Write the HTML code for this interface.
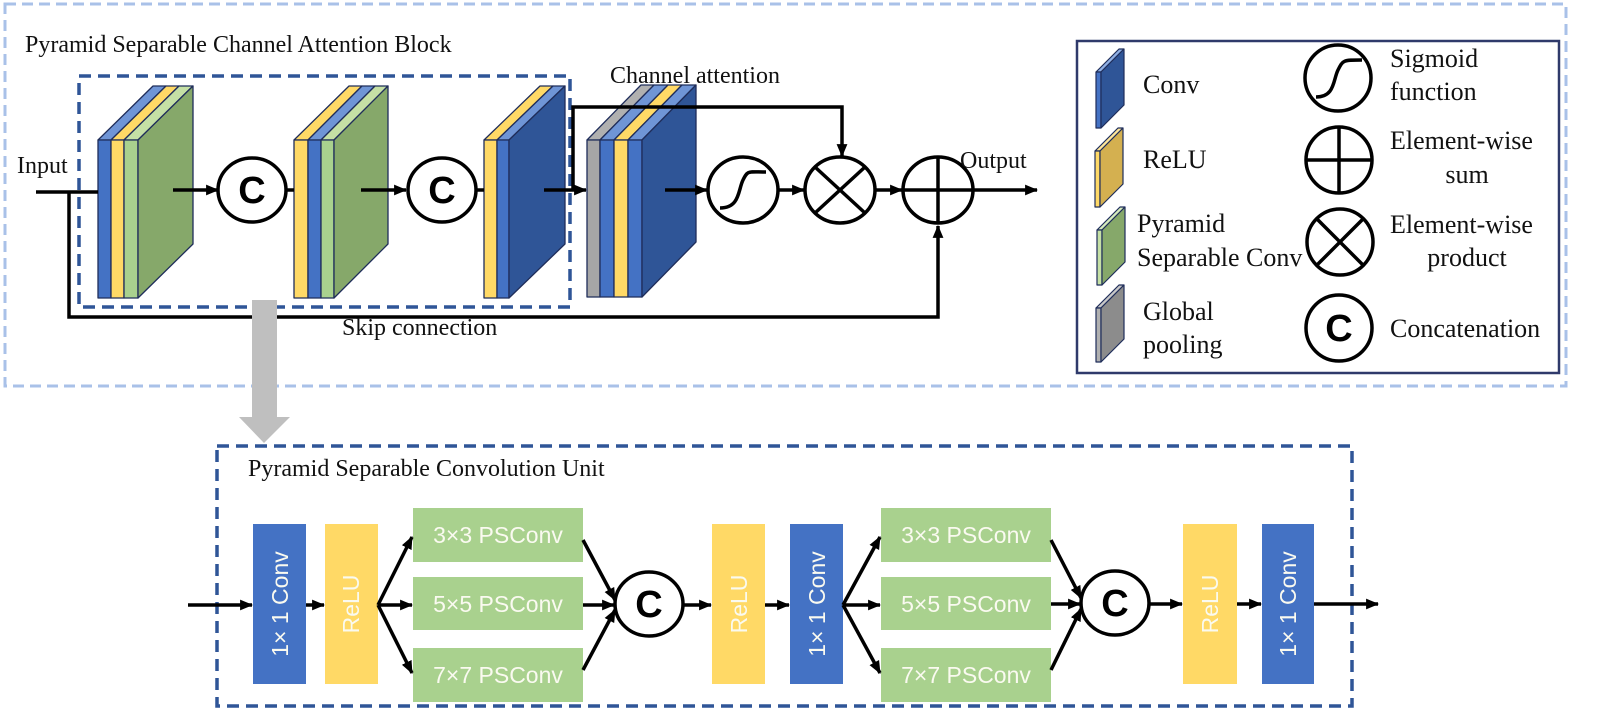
<!DOCTYPE html>
<html><head><meta charset="utf-8"><style>
html,body{margin:0;padding:0;background:#fff;}
svg{display:block;}
.serif{font-family:"Liberation Serif",serif;fill:#111;}
.sans{font-family:"Liberation Sans",sans-serif;}
</style></head><body>
<svg width="1600" height="721" viewBox="0 0 1600 721" xmlns="http://www.w3.org/2000/svg">
<defs>
<marker id="ah" viewBox="0 0 12 10" refX="11" refY="5" markerWidth="13" markerHeight="11" markerUnits="userSpaceOnUse" orient="auto">
<path d="M0,0 L12,5 L0,10 z" fill="#000"/></marker>
</defs>

<!-- outer light dashed box -->
<rect x="5" y="4" width="1561" height="382" fill="none" stroke="#a9c1e8" stroke-width="3" stroke-dasharray="11,6"/>
<text x="25" y="52" class="serif" font-size="24">Pyramid Separable Channel Attention Block</text>

<!-- dark dashed box top -->
<rect x="79" y="76" width="491" height="231" fill="none" stroke="#2f5597" stroke-width="3.5" stroke-dasharray="12,7"/>

<g stroke="#1f2d5a" stroke-width="1.3" stroke-linejoin="round">
<!-- block1 -->
<polygon points="98,140 153,86 166,86 111,140" fill="#6f95d6"/>
<polygon points="111,140 166,86 179,86 124,140" fill="#ffd966"/>
<polygon points="124,140 179,86 193,86 138,140" fill="#c5e0a5"/>
<rect x="98" y="140" width="13" height="158" fill="#4472c4"/>
<rect x="111" y="140" width="13" height="158" fill="#ffd966"/>
<rect x="124" y="140" width="14" height="158" fill="#a9d18e"/>
<polygon points="138,140 193,86 193,244 138,298" fill="#86a86a"/>
<!-- block2 -->
<polygon points="294,140 349,86 362,86 308,140" fill="#ffd966"/>
<polygon points="308,140 362,86 375,86 321,140" fill="#6f95d6"/>
<polygon points="321,140 375,86 388,86 334,140" fill="#c5e0a5"/>
<rect x="294" y="140" width="14" height="158" fill="#ffd966"/>
<rect x="308" y="140" width="13" height="158" fill="#4472c4"/>
<rect x="321" y="140" width="13" height="158" fill="#a9d18e"/>
<polygon points="334,140 388,86 388,244 334,298" fill="#86a86a"/>
<!-- block3 -->
<polygon points="484,140 540,86 553,86 497,140" fill="#ffd966"/>
<polygon points="497,140 553,86 565,86 509,140" fill="#6f95d6"/>
<rect x="484" y="140" width="13" height="158" fill="#ffd966"/>
<rect x="497" y="140" width="12" height="158" fill="#4472c4"/>
<polygon points="509,140 565,86 565,244 509,298" fill="#2f5597"/>
<!-- block4 -->
<polygon points="587,140 641,85 654,85 600,140" fill="#b0b0b0"/>
<polygon points="600,140 654,85 668,85 614,140" fill="#6f95d6"/>
<polygon points="614,140 668,85 682,85 628,140" fill="#ffd966"/>
<polygon points="628,140 682,85 696,85 642,140" fill="#6f95d6"/>
<rect x="587" y="140" width="13" height="157" fill="#a6a6a6"/>
<rect x="600" y="140" width="14" height="157" fill="#4472c4"/>
<rect x="614" y="140" width="14" height="157" fill="#ffd966"/>
<rect x="628" y="140" width="14" height="157" fill="#4472c4"/>
<polygon points="642,140 696,85 696,242 642,297" fill="#2f5597"/>
</g>

<g stroke="#000" stroke-width="3.5" fill="none">
<!-- input and skip -->
<line x1="36" y1="192" x2="98" y2="192"/>
<polyline points="69,192 69,317 938,317 938,226" marker-end="url(#ah)"/>
<line x1="173" y1="190" x2="218" y2="190" marker-end="url(#ah)"/>
<line x1="286" y1="190" x2="294" y2="190"/>
<line x1="361" y1="190" x2="406" y2="190" marker-end="url(#ah)"/>
<line x1="475" y1="190" x2="484" y2="190"/>
<line x1="544" y1="190" x2="586" y2="190" marker-end="url(#ah)"/>
<polyline points="573,190 573,107 842,107 842,156" marker-end="url(#ah)"/>
<line x1="665" y1="190" x2="707" y2="190" marker-end="url(#ah)"/>
<line x1="778" y1="190" x2="804" y2="190" marker-end="url(#ah)"/>
<line x1="875" y1="190" x2="902" y2="190" marker-end="url(#ah)"/>
<line x1="973" y1="190" x2="1037" y2="190" marker-end="url(#ah)"/>
<!-- circles -->
<ellipse cx="252" cy="190" rx="34" ry="32" fill="#fff"/>
<ellipse cx="442" cy="190" rx="34" ry="32" fill="#fff"/>
<ellipse cx="743" cy="190" rx="35" ry="33" fill="#fff"/>
<path d="M720,208 C740,208 738,190 743,180 C748,170 748,172 766,172"/>
<ellipse cx="840" cy="190" rx="35" ry="33" fill="#fff"/>
<line x1="815" y1="167" x2="865" y2="213"/><line x1="865" y1="167" x2="815" y2="213"/>
<ellipse cx="938" cy="190" rx="35" ry="33" fill="#fff"/>
<line x1="903" y1="190" x2="973" y2="190"/><line x1="938" y1="157" x2="938" y2="223"/>
</g>
<text x="252" y="203" text-anchor="middle" class="sans" font-weight="bold" font-size="38">C</text>
<text x="442" y="203" text-anchor="middle" class="sans" font-weight="bold" font-size="38">C</text>

<text x="17" y="173" class="serif" font-size="24">Input</text>
<text x="610" y="83" class="serif" font-size="24">Channel attention</text>
<text x="960" y="168" class="serif" font-size="24">Output</text>
<text x="342" y="335" class="serif" font-size="24">Skip connection</text>

<!-- legend -->
<rect x="1077" y="41" width="482" height="332" fill="#fff" stroke="#2f3a6b" stroke-width="2.5"/>
<g stroke="#1f2d5a" stroke-width="1.2" stroke-linejoin="round">
<polygon points="1096,72 1101,72 1124,49 1119,49" fill="#8fb0e6"/>
<rect x="1096" y="72" width="5" height="56" fill="#4472c4"/>
<polygon points="1101,72 1124,49 1124,105 1101,128" fill="#2f5597"/>
<polygon points="1095,151 1100,151 1123,128 1118,128" fill="#ffe699"/>
<rect x="1095" y="151" width="5" height="56" fill="#ffd966"/>
<polygon points="1100,151 1123,128 1123,184 1100,207" fill="#d4b050"/>
<polygon points="1097,230 1102,230 1125,207 1120,207" fill="#d6ecbc"/>
<rect x="1097" y="230" width="5" height="55" fill="#c5e0a5"/>
<polygon points="1102,230 1125,207 1125,262 1102,285" fill="#86a86a"/>
<polygon points="1096,308 1101,308 1124,285 1119,285" fill="#c8c8c8"/>
<rect x="1096" y="308" width="5" height="54" fill="#b0b0b0"/>
<polygon points="1101,308 1124,285 1124,339 1101,362" fill="#8c8c8c"/>
</g>
<g stroke="#000" stroke-width="3.5" fill="none">
<circle cx="1338" cy="78" r="33"/>
<path d="M1316,97 C1335,97 1333,80 1338,70 C1343,60 1343,60 1362,60"/>
<circle cx="1339" cy="160" r="33"/>
<line x1="1306" y1="160" x2="1372" y2="160"/><line x1="1339" y1="127" x2="1339" y2="193"/>
<circle cx="1340" cy="242" r="33"/>
<line x1="1317" y1="219" x2="1363" y2="265"/><line x1="1363" y1="219" x2="1317" y2="265"/>
<circle cx="1339" cy="328" r="33"/>
</g>
<text x="1339" y="341" text-anchor="middle" class="sans" font-weight="bold" font-size="38">C</text>
<g class="serif" font-size="26">
<text x="1143" y="93">Conv</text>
<text x="1143" y="168">ReLU</text>
<text x="1137" y="232">Pyramid</text>
<text x="1137" y="266">Separable Conv</text>
<text x="1143" y="320">Global</text>
<text x="1143" y="353">pooling</text>
<text x="1390" y="67">Sigmoid</text>
<text x="1390" y="100">function</text>
<text x="1390" y="149">Element-wise</text>
<text x="1467" y="183" text-anchor="middle">sum</text>
<text x="1390" y="233">Element-wise</text>
<text x="1467" y="266" text-anchor="middle">product</text>
<text x="1390" y="337">Concatenation</text>
</g>

<!-- gray arrow -->
<polygon points="252,300 277,300 277,417 290,417 264,443 239,417 252,417" fill="#bfbfbf"/>

<!-- bottom box -->
<rect x="217" y="446" width="1135" height="260" fill="none" stroke="#2f5597" stroke-width="3.5" stroke-dasharray="12,7"/>
<text x="248" y="476" class="serif" font-size="24">Pyramid Separable Convolution Unit</text>

<g>
<rect x="253" y="524" width="53" height="160" fill="#4472c4"/>
<rect x="325" y="524" width="53" height="160" fill="#ffd966"/>
<rect x="413" y="508" width="170" height="54" fill="#a9d18e"/>
<rect x="413" y="577" width="170" height="53" fill="#a9d18e"/>
<rect x="413" y="648" width="170" height="54" fill="#a9d18e"/>
<rect x="712" y="524" width="53" height="160" fill="#ffd966"/>
<rect x="790" y="524" width="53" height="160" fill="#4472c4"/>
<rect x="881" y="508" width="170" height="54" fill="#a9d18e"/>
<rect x="881" y="577" width="170" height="53" fill="#a9d18e"/>
<rect x="881" y="648" width="170" height="54" fill="#a9d18e"/>
<rect x="1183" y="524" width="54" height="160" fill="#ffd966"/>
<rect x="1262" y="524" width="52" height="160" fill="#4472c4"/>
</g>
<g class="sans" fill="#fafaf0" font-size="23" text-anchor="middle">
<text x="498" y="543">3×3 PSConv</text>
<text x="498" y="612">5×5 PSConv</text>
<text x="498" y="683">7×7 PSConv</text>
<text x="966" y="543">3×3 PSConv</text>
<text x="966" y="612">5×5 PSConv</text>
<text x="966" y="683">7×7 PSConv</text>
<text transform="translate(288,604) rotate(-90)">1× 1 Conv</text>
<text transform="translate(359,604) rotate(-90)">ReLU</text>
<text transform="translate(747,604) rotate(-90)">ReLU</text>
<text transform="translate(825,604) rotate(-90)">1× 1 Conv</text>
<text transform="translate(1218,604) rotate(-90)">ReLU</text>
<text transform="translate(1296,604) rotate(-90)">1× 1 Conv</text>
</g>
<g stroke="#000" stroke-width="3.5" fill="none">
<line x1="188" y1="605" x2="252" y2="605" marker-end="url(#ah)"/>
<line x1="306" y1="605" x2="324" y2="605" marker-end="url(#ah)"/>
<line x1="378" y1="605" x2="412" y2="537" marker-end="url(#ah)"/>
<line x1="378" y1="605" x2="412" y2="605" marker-end="url(#ah)"/>
<line x1="378" y1="605" x2="412" y2="673" marker-end="url(#ah)"/>
<line x1="583" y1="540" x2="615" y2="600" marker-end="url(#ah)"/>
<line x1="583" y1="605" x2="614" y2="605" marker-end="url(#ah)"/>
<line x1="583" y1="670" x2="615" y2="610" marker-end="url(#ah)"/>
<line x1="684" y1="605" x2="711" y2="605" marker-end="url(#ah)"/>
<line x1="765" y1="605" x2="789" y2="605" marker-end="url(#ah)"/>
<line x1="843" y1="605" x2="880" y2="537" marker-end="url(#ah)"/>
<line x1="843" y1="605" x2="880" y2="605" marker-end="url(#ah)"/>
<line x1="843" y1="605" x2="880" y2="673" marker-end="url(#ah)"/>
<line x1="1051" y1="540" x2="1081" y2="598" marker-end="url(#ah)"/>
<line x1="1051" y1="604" x2="1080" y2="604" marker-end="url(#ah)"/>
<line x1="1051" y1="670" x2="1081" y2="609" marker-end="url(#ah)"/>
<line x1="1150" y1="604" x2="1182" y2="604" marker-end="url(#ah)"/>
<line x1="1237" y1="604" x2="1261" y2="604" marker-end="url(#ah)"/>
<line x1="1314" y1="604" x2="1378" y2="604" marker-end="url(#ah)"/>
<ellipse cx="649" cy="604" rx="34" ry="32" fill="#fff"/>
<ellipse cx="1115" cy="603" rx="34" ry="32" fill="#fff"/>
</g>
<text x="649" y="617" text-anchor="middle" class="sans" font-weight="bold" font-size="38">C</text>
<text x="1115" y="616" text-anchor="middle" class="sans" font-weight="bold" font-size="38">C</text>
</svg>
</body></html>
